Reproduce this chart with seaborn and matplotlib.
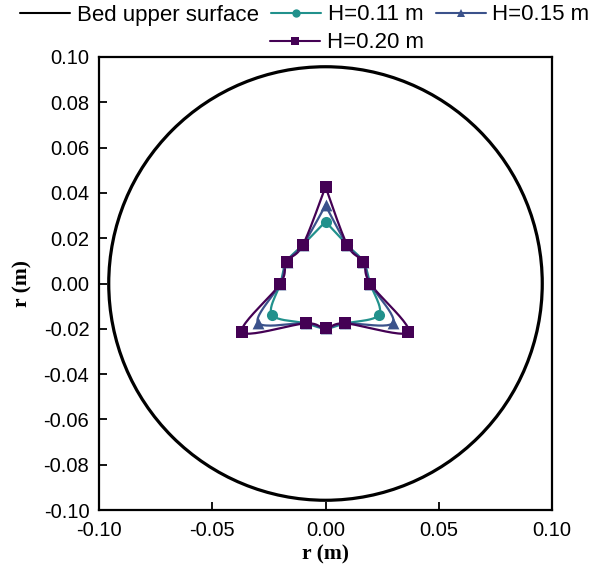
import numpy as np
import pandas as pd
import matplotlib
matplotlib.use("Agg")
import matplotlib.pyplot as plt
from matplotlib.patches import Circle
from matplotlib.lines import Line2D
import seaborn as sns

# Bed upper surface radius (m)
bed_radius = 0.0957

# Contour points (m), listed around each contour and closed back on the first point
x_h011 = [0.0000, 0.0096, 0.0167, 0.0197, 0.0237, 0.0087, 0.0000, -0.0087, -0.0237, -0.0199, -0.0172, -0.0100, 0.0000]
y_h011 = [0.0273, 0.0170, 0.0096, 0.0000, -0.0137, -0.0176, -0.0198, -0.0176, -0.0137, 0.0000, 0.0096, 0.0170, 0.0273]

x_h015 = [0.0000, 0.0096, 0.0167, 0.0197, 0.0298, 0.0087, 0.0000, -0.0087, -0.0298, -0.0199, -0.0172, -0.0100, 0.0000]
y_h015 = [0.0345, 0.0170, 0.0096, 0.0000, -0.0173, -0.0176, -0.0198, -0.0176, -0.0173, 0.0000, 0.0096, 0.0170, 0.0345]

x_h020 = [0.0000, 0.0096, 0.0167, 0.0197, 0.0366, 0.0087, 0.0000, -0.0087, -0.0368, -0.0199, -0.0172, -0.0100, 0.0000]
y_h020 = [0.0427, 0.0170, 0.0096, 0.0000, -0.0214, -0.0176, -0.0198, -0.0176, -0.0214, 0.0000, 0.0096, 0.0170, 0.0427]

series_labels = ["H=0.11 m", "H=0.15 m", "H=0.20 m"]
series_colors = ["#21918c", "#3b528b", "#440154"]
series_markers = ["o", "^", "s"]
series_sizes = [8.0, 8.5, 8.0]

x_ticks = [-0.10, -0.05, 0.00, 0.05, 0.10]
y_ticks = [-0.10, -0.08, -0.06, -0.04, -0.02, 0.00, 0.02, 0.04, 0.06, 0.08, 0.10]


def smooth_path(xs, ys, n=24):
    """Bezier smoothing through the points (Catmull-Rom style tangents)."""
    pts = np.column_stack([xs, ys]).astype(float)
    P = np.vstack([pts[0], pts, pts[-1]])
    t = np.linspace(0, 1, n)[:, None]
    segs = []
    for i in range(1, len(P) - 2):
        p0, p1, p2, p3 = P[i - 1], P[i], P[i + 1], P[i + 2]
        c1 = p1 + (p2 - p0) / 6.0
        c2 = p2 - (p3 - p1) / 6.0
        segs.append((1 - t) ** 3 * p1 + 3 * (1 - t) ** 2 * t * c1
                    + 3 * (1 - t) * t ** 2 * c2 + t ** 3 * p2)
    return np.vstack(segs)


sns.set_theme(style="white")
plt.rcParams["font.family"] = ["Liberation Sans", "DejaVu Sans"]
plt.rcParams["axes.unicode_minus"] = False
plt.rcParams["text.color"] = "black"
plt.rcParams["axes.labelcolor"] = "black"

fig = plt.figure(figsize=(5.93, 5.72), dpi=100)
ax = fig.add_axes([99 / 593, 1 - 510 / 572, 453 / 593, 453 / 572])

# Bed upper surface
ax.add_patch(Circle((0, 0), bed_radius, fill=False, edgecolor="black", linewidth=2.3, zorder=2))

series = [(x_h011, y_h011), (x_h015, y_h015), (x_h020, y_h020)]
for (xs, ys), col, mk, ms in zip(series, series_colors, series_markers, series_sizes):
    curve = smooth_path(xs, ys)
    df_curve = pd.DataFrame({"x": curve[:, 0], "y": curve[:, 1]})
    sns.lineplot(data=df_curve, x="x", y="y", sort=False, estimator=None,
                 color=col, linewidth=1.6, ax=ax, zorder=3)
    df_pts = pd.DataFrame({"x": xs[:-1], "y": ys[:-1]})
    sns.scatterplot(data=df_pts, x="x", y="y", marker=mk, color=col,
                    s=ms ** 2, linewidth=0, ax=ax, zorder=4)

ax.set_xlim(-0.10, 0.10)
ax.set_ylim(-0.10, 0.10)
ax.set_xticks(x_ticks)
ax.set_yticks(y_ticks)
ax.xaxis.set_major_formatter(matplotlib.ticker.FormatStrFormatter("%.2f"))
ax.yaxis.set_major_formatter(matplotlib.ticker.FormatStrFormatter("%.2f"))
ax.tick_params(axis="both", direction="in", length=6, width=1.3, labelsize=14.5,
               colors="black", bottom=True, left=True, top=False, right=False)
ax.tick_params(axis="x", pad=8)
ax.tick_params(axis="y", pad=7)
for sp in ax.spines.values():
    sp.set_visible(True)
    sp.set_color("black")
    sp.set_linewidth(1.6)

lab_font = dict(family=["Liberation Serif", "DejaVu Serif"], weight="bold", size=15.5, color="black")
ax.set_xlabel("r (m)", fontdict=lab_font, labelpad=3)
ax.set_ylabel("r (m)", fontdict=lab_font, labelpad=8)

# Legend: first row of three entries, fourth entry under the second column
handles = [Line2D([], [], color="black", linewidth=1.5)]
for col, mk, ms in zip(series_colors, series_markers, series_sizes):
    handles.append(Line2D([], [], color=col, linewidth=1.5, marker=mk,
                          markersize=ms * 0.75, markeredgewidth=0))
labels = ["Bed upper surface"] + series_labels

leg_kw = dict(frameon=False, fontsize=16, handlelength=2.25, handletextpad=0.3,
              columnspacing=0.55, borderpad=0, borderaxespad=0, labelcolor="black")
fig.legend(handles[:3], labels[:3], ncol=3, loc="center",
           bbox_to_anchor=(305 / 593, 1 - 15 / 572), **leg_kw)
fig.legend(handles[3:], labels[3:], ncol=1, loc="center left",
           bbox_to_anchor=(270 / 593, 1 - 43 / 572), **leg_kw)

fig.savefig("out.png", dpi=100)
